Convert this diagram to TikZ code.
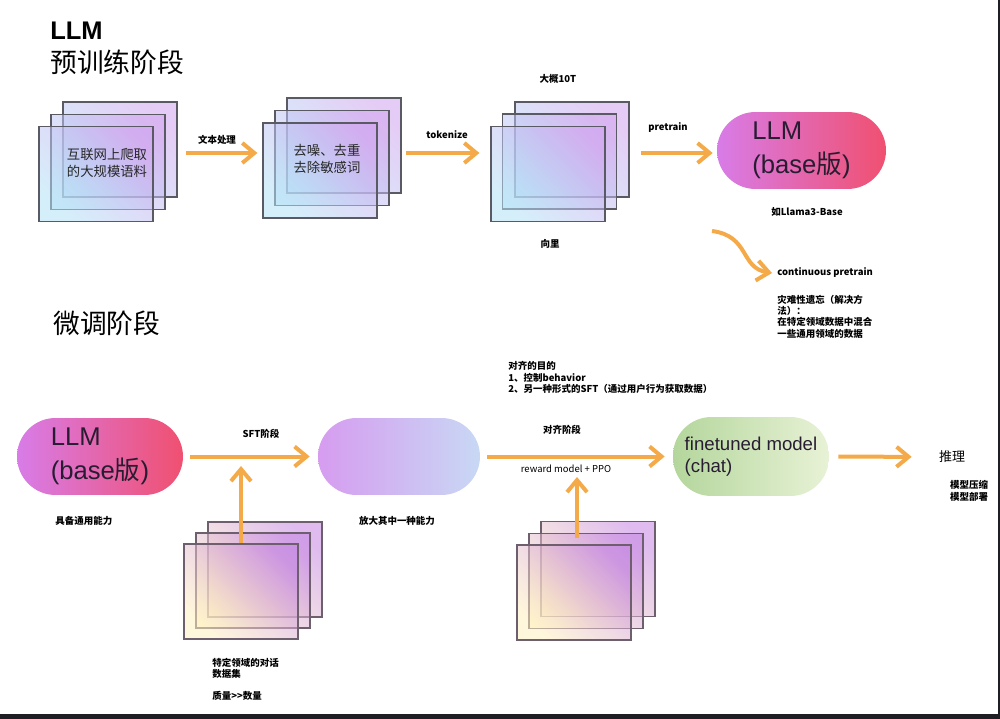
\documentclass[tikz,border=0pt]{standalone}
\usepackage{fontspec}
\setmainfont{Liberation Sans}
\newfontfamily\cjk{Noto Sans CJK SC}
\usetikzlibrary{arrows.meta}
\usepackage{xcolor}

\definecolor{flowor}{RGB}{244,170,72}
\definecolor{sheetline}{RGB}{90,90,100}
\definecolor{warmline}{RGB}{110,95,110}
\definecolor{sheetcyan}{RGB}{178,226,246}
\definecolor{sheetviolet}{RGB}{208,162,238}
\definecolor{sheetcream}{RGB}{255,240,190}
\definecolor{sheetplum}{RGB}{196,132,226}
\definecolor{pillviolet}{RGB}{216,124,232}
\definecolor{pillred}{RGB}{240,80,112}
\definecolor{pilllilac}{RGB}{214,156,240}
\definecolor{pillsky}{RGB}{200,216,244}
\definecolor{pillgreen}{RGB}{180,214,156}
\definecolor{pillpale}{RGB}{232,242,214}
\definecolor{inkdark}{RGB}{40,28,50}
\definecolor{screenbar}{RGB}{30,30,36}

\begin{document}
\begin{tikzpicture}[x=0.02cm, y=-0.02cm,
  sheet/.style={draw=sheetline, line width=0.7pt, minimum width=2.28cm, minimum height=1.9cm, inner sep=0, fill opacity=0.55},
  cool/.style={left color=sheetcyan, right color=sheetviolet, shading angle=135},
  warm/.style={draw=warmline, left color=sheetcream, right color=sheetplum, shading angle=135},
  pill/.style={rounded corners=0.77cm, minimum height=1.54cm, inner sep=0, align=left, text=inkdark, font=\fontsize{14.6}{19.3}\selectfont},
  flow/.style={draw=flowor, line width=0.08cm, -{Straight Barb[length=0.24cm, width=0.4cm]}},
  lbl/.style={inner sep=0, font=\cjk\bfseries\fontsize{5.4}{6.5}\selectfont},
  heading/.style={inner sep=0, anchor=west, font=\cjk\fontsize{15.2}{17}\selectfont},
  sheettext/.style={inner sep=0, align=center, text=black!85, font=\cjk\fontsize{7.6}{9.7}\selectfont}
]

\useasboundingbox (0,0) rectangle (1000,719);
\fill[screenbar] (0,714) rectangle (1000,719);
\fill[screenbar] (998,0) rectangle (1000,714);

% headings
\node[inner sep=0, anchor=west, font=\bfseries\fontsize{14.5}{16}\selectfont] (title) at (50,31) {LLM};
\node[heading] (prehead) at (50,62) {预训练阶段};
\node[heading] (finehead) at (53,323) {微调阶段};

\coordinate (row1) at (0,153);

% raw corpus
\node[sheet, cool] (s1b) at (120,149.5) {};
\node[sheet, cool] (s1m) at (108,162) {};
\node[sheet, cool] (s1f) at (96,174) {};
\node[sheettext] (crawl) at (107,163) {互联网上爬取\\的大规模语料};

% cleaned corpus
\node[sheet, cool] (s2b) at (344,145.5) {};
\node[sheet, cool] (s2m) at (332,158) {};
\node[sheet, cool] (s2f) at (320,170.5) {};
\node[sheettext] (clean) at (327,159) {去噪、去重\\去除敏感词};

% tokens
\node[sheet, cool] (s3b) at (572,149.5) {};
\node[sheet, cool] (s3m) at (559.5,161.5) {};
\node[sheet, cool] (s3f) at (548,174) {};
\node[lbl] (size) at (558,79) {大概10T};
\node[lbl] (vec) at (550,244) {向里};

% base model
\node[pill, minimum width=3.38cm, left color=pillviolet, right color=pillred] (base1) at (801.5,150.5) {LLM\\(base{\cjk 版})};
\node[lbl] (llama) at (807,212) {如Llama3-Base};

\draw[flow, shorten <=0.16cm, shorten >=0.1cm] (s1b.east |- row1) -- (s2f.west |- row1);
\node[lbl] (textproc) at (217,140) {文本处理};
\draw[flow, shorten <=0.08cm, shorten >=0.22cm] (s2b.east |- row1) -- (s3f.west |- row1);
\node[lbl] (tok) at (447,135) {tokenize};
\draw[flow, shorten <=0.22cm, shorten >=0.08cm] (s3b.east |- row1) -- (base1.west |- row1);
\node[lbl] (pt) at (668,128) {pretrain};

% continuous pretrain
\coordinate (cpfrom) at (712,231);
\coordinate (cpto) at (772,273);
\draw[flow] (cpfrom) .. controls (750,236) and (740,268) .. (cpto);
\node[lbl, anchor=west] (cpt) at (777,273) {continuous pretrain};
\node[lbl, anchor=west, align=left] (forget) at (777,316.5) {灾难性遗忘（解决方\\法）：\\在特定领域数据中混合\\一些通用领域的数据};

% fine tuning row
\node[pill, minimum width=3.32cm, left color=pillviolet, right color=pillred] (base2) at (100,456.5) {LLM\\(base{\cjk 版})};
\node[lbl, anchor=west] (general) at (55,521) {具备通用能力};

\node[pill, minimum width=3.24cm, left color=pilllilac, right color=pillsky] (amp) at (399,456.5) {};
\node[lbl] (ampl) at (397,521) {放大其中一种能力};

\node[pill, minimum width=3.12cm, minimum height=1.58cm, left color=pillgreen, right color=pillpale, font=\fontsize{10.6}{12.5}\selectfont] (fin) at (751,456.5) {finetuned model\\(chat)};

\node[lbl] (sftl) at (261,434) {SFT阶段};
\draw[flow, shorten <=0.14cm, shorten >=0.16cm] (base2.east) -- (amp.west);

% sft data
\node[sheet, warm] (s4b) at (265,569.5) {};
\node[sheet, warm] (s4m) at (253,580.5) {};
\node[sheet, warm] (s4f) at (241,591.5) {};
\coordinate (sftsrc) at (241,543);
\coordinate (sftin) at (241,466);
\draw[flow] (sftsrc) -- (sftin);
\node[lbl, anchor=west, align=left] (dialog) at (212,668.5) {特定领域的对话\\数据集};
\node[lbl, anchor=west] (qual) at (212,696) {质量>>数量};

% alignment
\node[lbl, anchor=west, align=left, font=\cjk\bfseries\fontsize{5.4}{6.6}\selectfont] (goal) at (508,377.5) {对齐的目的\\1、控制behavior\\2、另一种形式的SFT（通过用户行为获取数据）};
\node[lbl] (alignl) at (562,430) {对齐阶段};
\draw[flow, shorten <=0.14cm, shorten >=0.16cm] (amp.east) -- (fin.west);
\node[lbl, font=\cjk\fontsize{5.4}{6.5}\selectfont] (ppo) at (566,469) {reward model + PPO};

\node[sheet, warm] (s5b) at (598,569) {};
\node[sheet, warm] (s5m) at (586,581) {};
\node[sheet, warm] (s5f) at (574,592.5) {};
\coordinate (ppsrc) at (577,538);
\coordinate (ppin) at (577,477);
\draw[flow] (ppsrc) -- (ppin);

% inference
\node[inner sep=0, font=\cjk\fontsize{7.4}{9}\selectfont] (infer) at (952,457) {推理};
\draw[flow, shorten <=0.18cm, shorten >=0.54cm] (fin.east) -- (infer.west);
\node[lbl, align=left] (deploy) at (969,491) {模型压缩\\模型部署};

\end{tikzpicture}
\end{document}
